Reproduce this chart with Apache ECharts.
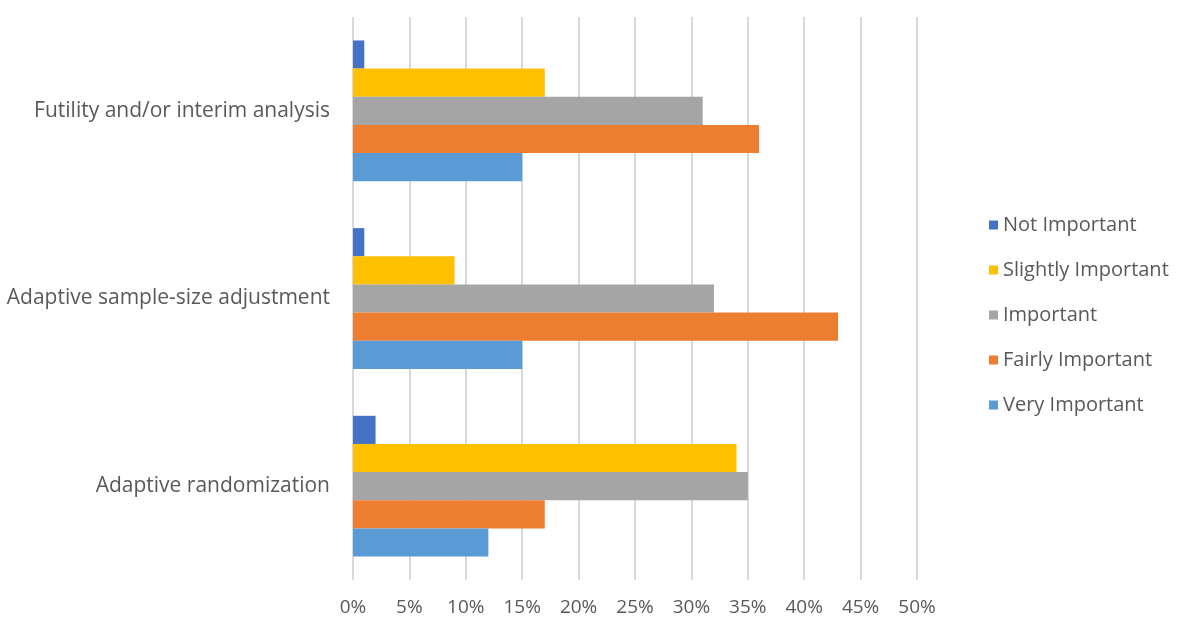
<!DOCTYPE html>
<html>
<head>
<meta charset="utf-8">
<script src="https://cdn.jsdelivr.net/npm/echarts@6/dist/echarts.min.js"></script>
<style>
  html, body { margin: 0; padding: 0; background: #fff; }
  #chart { width: 1181px; height: 634px; }
</style>
</head>
<body>
<div id="chart"></div>
<script>
// categories bottom -> top (ECharts category yAxis starts at bottom)
const categories = ['Adaptive randomization', 'Adaptive sample-size adjustment', 'Futility and/or interim analysis'];
const legendOrder = ['Not Important', 'Slightly Important', 'Important', 'Fairly Important', 'Very Important'];

// percent values per category (same order as categories)
const veryImportant = [12, 15, 15];
const fairlyImportant = [17, 43, 36];
const important = [35, 32, 31];
const slightlyImportant = [34, 9, 17];
const notImportant = [2, 1, 1];

const textColor = '#595959';
const fontFamily = 'Open Sans, Liberation Sans, sans-serif';

let myChart = echarts.init(document.getElementById('chart'));

// first series sits at the top of each group
const seriesList = [
  { name: 'Not Important', data: notImportant, color: '#4472C4' },
  { name: 'Slightly Important', data: slightlyImportant, color: '#FFC000' },
  { name: 'Important', data: important, color: '#A5A5A5' },
  { name: 'Fairly Important', data: fairlyImportant, color: '#ED7D31' },
  { name: 'Very Important', data: veryImportant, color: '#5B9BD5' },
].map((s) => ({
  name: s.name,
  type: 'bar',
  data: s.data,
  barGap: '0%',
  barCategoryGap: '25%',
  itemStyle: { color: s.color },
}));

const option = {
  animation: false,
  textStyle: { fontFamily: fontFamily },
  grid: {
    left: 353,
    right: 264,
    top: 17,
    bottom: 54,
  },
  legend: {
    orient: 'vertical',
    left: 984,
    top: 209,
    itemWidth: 9,
    itemHeight: 9,
    itemGap: 23,
    icon: 'rect',
    data: legendOrder,
    textStyle: {
      color: textColor,
      fontSize: 20,
      fontFamily: fontFamily,
      lineHeight: 22,
    },
  },
  xAxis: {
    type: 'value',
    min: 0,
    max: 50,
    interval: 5,
    axisLine: { show: false },
    axisTick: { show: false },
    splitLine: {
      show: true,
      lineStyle: { color: '#D9D9D9', width: 2 },
    },
    axisLabel: {
      formatter: '{value}%',
      color: textColor,
      fontSize: 19,
      margin: 18,
    },
  },
  yAxis: {
    type: 'category',
    data: categories,
    axisLine: { show: false },
    axisTick: { show: false },
    axisLabel: {
      color: textColor,
      fontSize: 21,
      margin: 23,
    },
  },
  series: seriesList,
};
myChart.setOption(option, true);
</script>
</body>
</html>
